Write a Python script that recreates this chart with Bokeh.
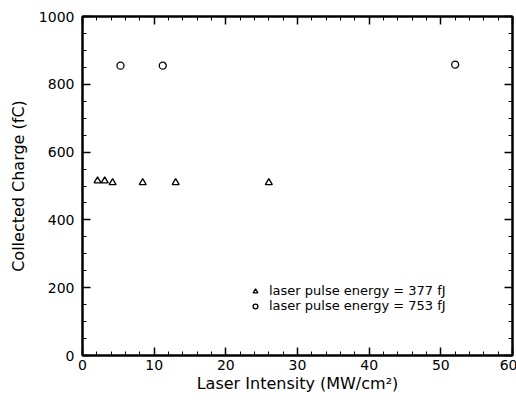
from bokeh.plotting import figure
from bokeh.models import (LinearAxis, Range1d, Legend, LegendItem, FixedTicker,
                          CustomLabelingPolicy)
from bokeh.embed import file_html
from bokeh.resources import INLINE

# data
tri_x = [2.1, 3.1, 4.2, 8.4, 13.0, 26.0]
tri_y = [515, 515, 510, 510, 510, 510]
circ_x = [5.3, 11.2, 52.0]
circ_y = [855, 855, 858]
tri_label = "laser pulse energy = 377 fJ"
circ_label = "laser pulse energy = 753 fJ"
x_major = [0, 10, 20, 30, 40, 50, 60]
x_minor = [v for v in range(0, 61, 2)]
y_major = [0, 200, 400, 600, 800, 1000]
y_minor = [v for v in range(0, 1001, 50)]

FONT = "DejaVu Sans"

p = figure(frame_width=430, frame_height=339, output_backend="svg", toolbar_location=None,
           x_range=Range1d(0, 60), y_range=Range1d(0, 1000),
           min_border_left=82, min_border_right=4, min_border_top=16, min_border_bottom=45)
p.background_fill_color = "white"
p.border_fill_color = "white"
p.outline_line_color = "black"
p.outline_line_width = 2
p.xgrid.visible = False
p.ygrid.visible = False


def style(ax, ticks, minor, labels=True):
    ax.ticker = FixedTicker(ticks=ticks, minor_ticks=minor)
    ax.axis_line_width = 2
    ax.major_tick_in = 8
    ax.major_tick_out = 0
    ax.minor_tick_in = 4
    ax.minor_tick_out = 0
    ax.major_tick_line_width = 1.5
    ax.minor_tick_line_width = 1
    if labels:
        ax.major_label_text_font = FONT
        ax.major_label_text_font_size = "14px"
        ax.major_label_text_color = "black"
        ax.axis_label_text_font = FONT
        ax.axis_label_text_font_size = "16px"
        ax.axis_label_text_font_style = "normal"
        ax.axis_label_text_color = "black"
    else:
        ax.major_label_text_font_size = "1px"
        ax.major_label_standoff = 0
        ax.major_label_policy = CustomLabelingPolicy(
            code="for (const i of indices) indices.unset(i)\nreturn indices")
        ax.axis_label = None


xa = p.xaxis[0]
style(xa, x_major, x_minor)
xa.axis_label = "Laser Intensity (MW/cm²)"
xa.major_label_standoff = 4
xa.axis_label_standoff = 1

ya = p.yaxis[0]
style(ya, y_major, y_minor)
ya.axis_label = "Collected Charge (fC)"
ya.major_label_standoff = 8
ya.axis_label_standoff = 8

top = LinearAxis()
style(top, x_major, x_minor, labels=False)
p.add_layout(top, "above")
right = LinearAxis()
style(right, y_major, y_minor, labels=False)
p.add_layout(right, "right")

r1 = p.scatter(tri_x, tri_y, marker="triangle", size=7, fill_color=None,
               line_color="black", line_width=1.3)
r2 = p.scatter(circ_x, circ_y, marker="circle", size=7, fill_color=None,
               line_color="black", line_width=1.3)

legend = Legend(items=[LegendItem(label=tri_label, renderers=[r1]),
                       LegendItem(label=circ_label, renderers=[r2])],
                location=(167, 42))
legend.background_fill_alpha = 0
legend.border_line_alpha = 0
legend.label_text_font = FONT
legend.label_text_font_size = "13px"
legend.label_text_color = "black"
legend.label_text_line_height = 0.9
legend.label_height = 12
legend.glyph_height = 12
legend.glyph_width = 12
legend.spacing = 0
legend.padding = 0
legend.margin = 0
legend.label_standoff = 8
p.add_layout(legend, "center")

open("out.html", "w").write(file_html(p, INLINE))
